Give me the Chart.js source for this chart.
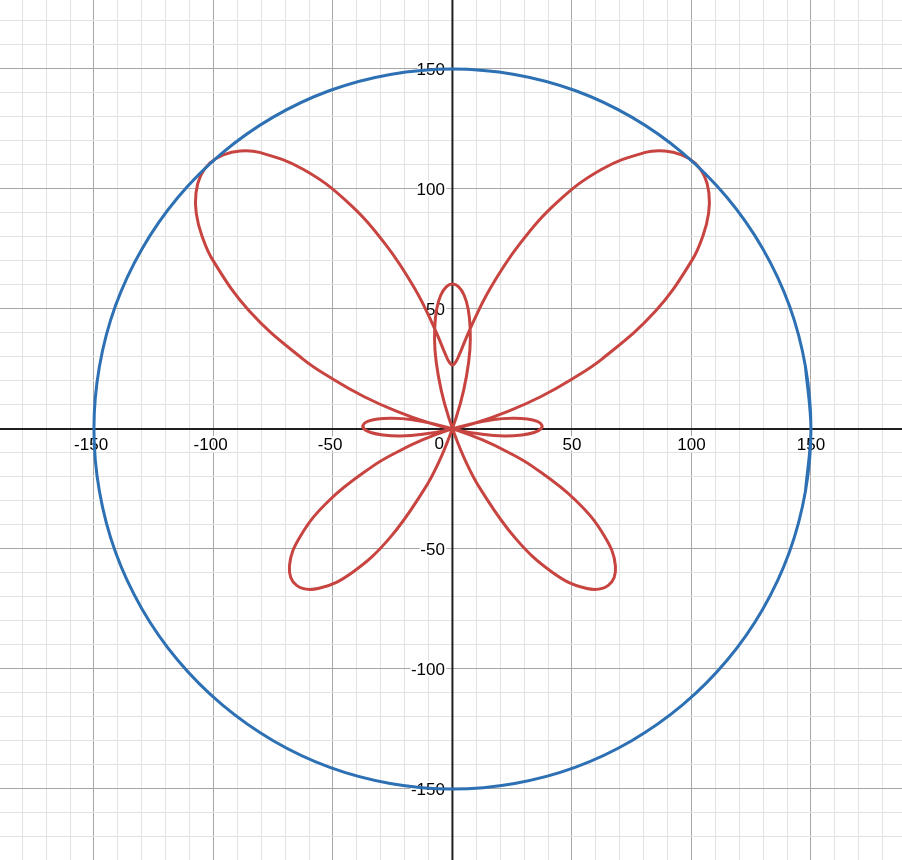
<!DOCTYPE html>
<html>
<head>
<meta charset="utf-8">
<script src="https://cdn.jsdelivr.net/npm/chart.js@4.4.1/dist/chart.umd.min.js"></script>
<style>
  html, body { margin: 0; padding: 0; background: #fff; }
  #wrap { width: 902px; height: 860px; }
</style>
</head>
<body>
<div id="wrap"><canvas id="graph" width="902" height="860"></canvas></div>
<script>
// visible window, in graph units
var xMin = -189.3, xMax = 188.1, yMin = -179.6, yMax = 178.7;

var tickLabelsX = [-150, -100, -50, 50, 100, 150];
var tickLabelsY = [-150, -100, -50, 50, 100, 150];

// blue circle, r = 150 (read every 10 degrees, a little overlap at the ends)
var circleX = [147.7, 150, 147.7, 141, 129.9, 114.9, 96.4, 75, 51.3, 26, 0, -26, -51.3, -75, -96.4, -114.9, -129.9, -141, -147.7,
  -150, -147.7, -141, -129.9, -114.9, -96.4, -75, -51.3, -26, 0, 26, 51.3, 75, 96.4, 114.9, 129.9, 141, 147.7, 150, 147.7];
var circleY = [-26, 0, 26, 51.3, 75, 96.4, 114.9, 129.9, 141, 147.7, 150, 147.7, 141, 129.9, 114.9, 96.4, 75, 51.3, 26,
  0, -26, -51.3, -75, -96.4, -114.9, -129.9, -141, -147.7, -150, -147.7, -141, -129.9, -114.9, -96.4, -75, -51.3, -26, 0, 26];

// red butterfly, one closed trace (small side lobes, wings, lower lobes, top loop)
var butterflyX = [
  -37.4, -37, -34.2, -29.1, -21.7, -12.5, -1.6, 10.6, 23.5, 36.9, 50.1, 62.8,
  84.9, 100.2, 104.8, 107.2, 107.3, 105.4, 101.5, 95.9, 88.8, 80.7,
  62.5, 44.1, 28, 15.6, 7.4, 2.7, 1.2, 0, -1.2, -2.7, -7.4, -15.6, -28, -44.1, -62.5,
  -80.7, -88.8, -95.9, -101.5, -105.4, -107.3, -107.2, -104.8, -100.2, -84.9,
  -62.8, -50.1, -36.9, -23.5, -10.6, 1.6, 12.5, 21.7, 29.1, 34.2, 37,
  37.4, 35.5, 31.3, 25.2, 17.4, 8.2, -2, -12.6, -23.3, -33.6,
  -51.5, -63.5, -68.2, -65.2, -55.8, -41.9, -26.3, -11.8, -5.6, -0.6,
  3.3, 5.9, 7.3, 7.4, 6.6, 4.9, 2.6, 0, -2.6, -4.9, -6.6, -7.4, -7.3, -5.9, -3.3,
  0.6, 5.6, 11.8, 26.3, 41.9, 55.8, 65.2, 68.2, 63.5, 51.5, 33.6, 23.3, 12.6, 2,
  -8.2, -17.4, -25.2, -31.3, -35.5, -37.4, -37, -34.2
];
var butterflyY = [
  1.6, 0, -1.5, -2.5, -2.9, -2.2, -0.4, 2.8, 7.4, 13.4, 20.8, 29.3,
  49, 70.2, 80.4, 89.9, 98.4, 105.4, 110.8, 114.2, 115.8, 115.2,
  108.2, 94.7, 76.9, 58.2, 41.7, 30.5, 27.6, 26.6, 27.6, 30.5, 41.7, 58.2, 76.9, 94.7, 108.2,
  115.2, 115.8, 114.2, 110.8, 105.4, 98.4, 89.9, 80.4, 70.2, 49,
  29.3, 20.8, 13.4, 7.4, 2.8, -0.4, -2.2, -2.9, -2.5, -1.5, 0,
  1.6, 3.1, 4.1, 4.4, 3.9, 2.2, -0.6, -4.6, -9.7, -15.7,
  -29.7, -44.5, -57.2, -65.2, -66.4, -59.8, -45.5, -25.2, -13.6, -1.5,
  10.5, 22.1, 32.8, 42.2, 49.9, 55.7, 59.2, 60.4, 59.2, 55.7, 49.9, 42.2, 32.8, 22.1, 10.5,
  -1.5, -13.6, -25.2, -45.5, -59.8, -66.4, -65.2, -57.2, -44.5, -29.7, -15.7, -9.7, -4.6, -0.6,
  2.2, 3.9, 4.4, 4.1, 3.1, 1.6, 0, -1.5
];

var BLUE = '#2d70b3';
var RED = '#c74440';

function pts(xs, ys) {
  var out = [];
  for (var i = 0; i < xs.length; i++) out.push({ x: xs[i], y: ys[i] });
  return out;
}

function curve(xs, ys, color, tension) {
  return {
    data: pts(xs, ys),
    borderColor: color,
    borderWidth: 3,
    pointRadius: 0,
    pointHoverRadius: 0,
    tension: tension,
    fill: false
  };
}

var datasets = [
  curve(circleX, circleY, BLUE, 0.34),
  curve(butterflyX, butterflyY, RED, 0.4)
];

function gridColor(ctx) {
  var v = ctx.tick.value;
  if (Math.abs(v % 50) < 1e-6) return '#a6a6a6';
  return '#e2e2e2';
}

// axes lines and the number labels, under the curves
var axesAndLabels = {
  id: 'axesAndLabels',
  beforeDatasetsDraw: function (chart) {
    var c = chart.ctx, sx = chart.scales.x, sy = chart.scales.y, a = chart.chartArea;
    var ox = sx.getPixelForValue(0), oy = sy.getPixelForValue(0);
    c.save();
    c.strokeStyle = '#1f1f1f';
    c.lineWidth = 2;
    c.beginPath();
    c.moveTo(a.left, oy); c.lineTo(a.right, oy);
    c.moveTo(ox, a.top); c.lineTo(ox, a.bottom);
    c.stroke();

    c.font = '17px "Liberation Sans", Arial, sans-serif';
    c.lineJoin = 'round';
    c.lineWidth = 4;
    c.strokeStyle = '#fff';
    c.fillStyle = '#000';
    c.textBaseline = 'alphabetic';

    function label(txt, x, y, align) {
      c.textAlign = align;
      c.strokeText(txt, x, y);
      c.fillText(txt, x, y);
    }

    tickLabelsX.forEach(function (v) {
      var px = sx.getPixelForValue(v);
      var w = c.measureText(String(Math.abs(v))).width;
      label(String(v), px + w / 2, oy + 21.5, 'right');
    });
    tickLabelsY.forEach(function (v) {
      var py = sy.getPixelForValue(v);
      label(String(v), ox - 7.5, py + 6, 'right');
    });
    label('0', ox - 8.5, oy + 20.5, 'right');
    c.restore();
  }
};

new Chart(document.getElementById('graph'), {
  type: 'line',
  data: { datasets: datasets },
  options: {
    responsive: false,
    animation: false,
    events: [],
    layout: { padding: 0 },
    plugins: { legend: { display: false }, tooltip: { enabled: false } },
    scales: {
      x: {
        type: 'linear', min: xMin, max: xMax,
        ticks: { display: false, stepSize: 10, includeBounds: false },
        grid: { color: gridColor, lineWidth: 1, drawTicks: false },
        border: { display: false }
      },
      y: {
        type: 'linear', min: yMin, max: yMax,
        ticks: { display: false, stepSize: 10, includeBounds: false },
        grid: { color: gridColor, lineWidth: 1, drawTicks: false },
        border: { display: false }
      }
    }
  },
  plugins: [axesAndLabels]
});
</script>
</body>
</html>
